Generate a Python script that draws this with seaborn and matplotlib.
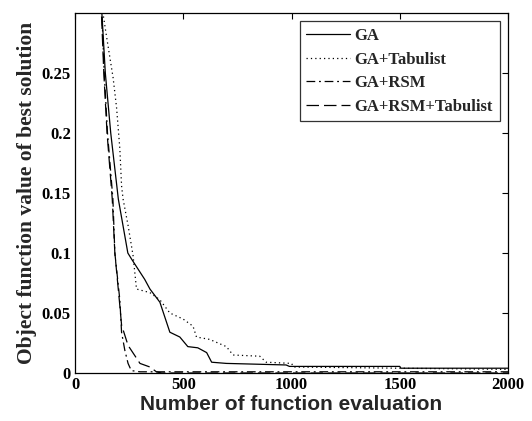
import matplotlib
matplotlib.use("Agg")
import matplotlib.pyplot as plt
import seaborn as sns
import pandas as pd

# ---- data ----
ga_x = [100, 124, 140, 165, 200, 244, 261, 322, 346, 392, 438, 484, 521, 567, 608, 631, 699, 975, 990, 1500, 1505, 2000]
ga_y = [0.40, 0.30, 0.25, 0.20, 0.145, 0.100, 0.095, 0.078, 0.070, 0.059, 0.034, 0.030, 0.022, 0.021, 0.017, 0.009, 0.008, 0.0067, 0.0055, 0.0055, 0.004, 0.004]

tabu_x = [100, 129, 146, 161, 176, 192, 207, 215, 222, 245, 268, 284, 346, 392, 438, 499, 545, 561, 622, 699, 730, 853, 883, 1000, 1010, 1500, 2000]
tabu_y = [0.40, 0.30, 0.28, 0.263, 0.246, 0.221, 0.187, 0.156, 0.145, 0.123, 0.098, 0.070, 0.067, 0.061, 0.050, 0.045, 0.039, 0.030, 0.028, 0.022, 0.015, 0.014, 0.009, 0.008, 0.005, 0.004, 0.003]

rsm_x = [100, 124, 135, 150, 175, 184, 207, 215, 230, 245, 260, 300, 2000]
rsm_y = [0.40, 0.30, 0.25, 0.20, 0.145, 0.100, 0.061, 0.034, 0.019, 0.008, 0.002, 0.001, 0.001]

rsmt_x = [100, 122, 133, 148, 172, 184, 205, 215, 245, 300, 346, 376, 400, 2000]
rsmt_y = [0.40, 0.30, 0.25, 0.20, 0.145, 0.100, 0.060, 0.040, 0.023, 0.008, 0.005, 0.001, 0.0, 0.0]

series_names = ["GA", "GA+Tabulist", "GA+RSM", "GA+RSM+Tabulist"]
x_ticks = [0, 500, 1000, 1500, 2000]
y_ticks = [0, 0.05, 0.1, 0.15, 0.2, 0.25]
y_tick_labels = ["0", "0.05", "0.1", "0.15", "0.2", "0.25"]

sns.set_theme(style="white")
plt.rcParams["font.family"] = ["Liberation Serif", "DejaVu Serif"]

frames = []
for name, xs, ys in zip(series_names, [ga_x, tabu_x, rsm_x, rsmt_x], [ga_y, tabu_y, rsm_y, rsmt_y]):
    frames.append(pd.DataFrame({"x": xs, "y": ys, "series": name}))
df = pd.concat(frames, ignore_index=True)

fig = plt.figure(figsize=(5.32, 4.21), dpi=100)
ax = fig.add_axes([0.141, 0.114, 0.814, 0.855])

styles = {"GA": "-", "GA+Tabulist": (0, (1, 2.5)), "GA+RSM": (0, (7, 3, 1.5, 3)), "GA+RSM+Tabulist": (0, (10, 4))}
for name in series_names:
    sub = df[df["series"] == name]
    sns.lineplot(data=sub, x="x", y="y", ax=ax, color="black", linewidth=0.9,
                 linestyle=styles[name], label=name, sort=False, estimator=None)

ax.set_xlim(0, 2000)
ax.set_ylim(0, 0.30)
ax.set_xticks(x_ticks)
ax.set_yticks(y_ticks)
ax.set_yticklabels(y_tick_labels)
for lab in ax.get_xticklabels() + ax.get_yticklabels():
    lab.set_fontweight("bold")
    lab.set_fontsize(12)
ax.tick_params(direction="in", top=True, right=True, length=4, width=0.8, colors="black", pad=3)
for s in ax.spines.values():
    s.set_color("black")
    s.set_linewidth(0.9)

ax.set_xlabel("Number of function evaluation", fontsize=15, fontweight="bold",
              family=["Liberation Sans", "DejaVu Sans"], labelpad=1)
ax.set_ylabel("Object function value of best solution", fontsize=15.5, fontweight="bold", labelpad=3)

leg = ax.legend(loc="upper right", frameon=True, fancybox=False, edgecolor="black",
                prop={"family": "Liberation Serif", "weight": "bold", "size": 12},
                handlelength=2.6, borderpad=0.4, labelspacing=0.45, handletextpad=0.3,
                borderaxespad=0.5)
leg.get_frame().set_linewidth(0.9)

fig.savefig("out.png", dpi=100)
